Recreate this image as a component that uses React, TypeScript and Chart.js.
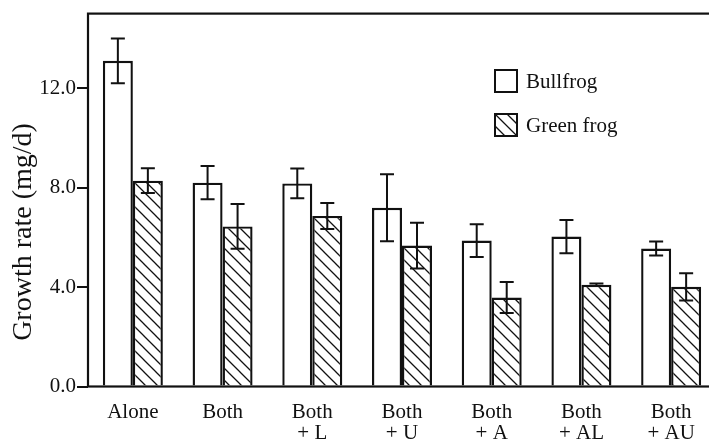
import { useEffect, useRef } from "react";
import { Chart, registerables } from "chart.js";

Chart.register(...registerables);

// Treatments along the x axis (multi-line labels)
const categories: string[][] = [
  ["Alone"],
  ["Both"],
  ["Both", "+ L"],
  ["Both", "+ U"],
  ["Both", "+ A"],
  ["Both", "+ AL"],
  ["Both", "+ AU"],
];

const seriesNames = ["Bullfrog", "Green frog"];

// Mean growth rate (mg/d) and error half-widths
const bullfrog = [13.1, 8.2, 8.17, 7.19, 5.87, 6.03, 5.55];
const bullfrogErr = [0.9, 0.67, 0.6, 1.35, 0.66, 0.67, 0.28];
const greenFrog = [8.28, 6.44, 6.86, 5.67, 3.58, 4.09, 4.01];
const greenFrogErr = [0.5, 0.9, 0.52, 0.92, 0.62, 0.05, 0.55];

const yTicks = [0, 4, 8, 12];
const yMax = 15;
const yTitle = "Growth rate (mg/d)";

const FONT = "'Liberation Serif', 'Times New Roman', serif";
const INK = "#111";

function makeHatch(): CanvasPattern | string {
  const size = 12;
  const c = document.createElement("canvas");
  c.width = size;
  c.height = size;
  const g = c.getContext("2d");
  if (!g) return "#fff";
  g.fillStyle = "#fff";
  g.fillRect(0, 0, size, size);
  g.strokeStyle = INK;
  g.lineWidth = 1.3;
  g.beginPath();
  g.moveTo(-2, -2);
  g.lineTo(size + 2, size + 2);
  g.moveTo(-2, size - 2);
  g.lineTo(2, size + 2);
  g.moveTo(size - 2, -2);
  g.lineTo(size + 2, 2);
  g.stroke();
  const p = g.createPattern(c, "repeat");
  return p ?? "#fff";
}

const errorBarsPlugin = {
  id: "errorBars",
  afterDatasetsDraw(chart: any) {
    const ctx = chart.ctx as CanvasRenderingContext2D;
    const y = chart.scales.y;
    const errs = [bullfrogErr, greenFrogErr];
    const vals = [bullfrog, greenFrog];
    ctx.save();
    ctx.strokeStyle = INK;
    ctx.lineWidth = 2;
    for (let d = 0; d < 2; d++) {
      const meta = chart.getDatasetMeta(d);
      meta.data.forEach((el: any, i: number) => {
        const top = y.getPixelForValue(vals[d][i] + errs[d][i]);
        const bot = y.getPixelForValue(vals[d][i] - errs[d][i]);
        const half = 7;
        ctx.beginPath();
        ctx.moveTo(el.x, top);
        ctx.lineTo(el.x, bot);
        ctx.moveTo(el.x - half, top);
        ctx.lineTo(el.x + half, top);
        ctx.moveTo(el.x - half, bot);
        ctx.lineTo(el.x + half, bot);
        ctx.stroke();
      });
    }
    ctx.restore();
  },
};

const framePlugin = {
  id: "frame",
  afterDraw(chart: any) {
    const ctx = chart.ctx as CanvasRenderingContext2D;
    const a = chart.chartArea;
    ctx.save();
    ctx.strokeStyle = INK;
    ctx.lineWidth = 2.2;
    ctx.strokeRect(a.left, a.top, a.right - a.left, a.bottom - a.top);

    // y-axis title
    ctx.fillStyle = INK;
    ctx.font = `28px ${FONT}`;
    ctx.textAlign = "center";
    ctx.textBaseline = "middle";
    ctx.translate(24, 232);
    ctx.rotate(-Math.PI / 2);
    ctx.fillText(yTitle, 0, 0);
    ctx.restore();
  },
};

const legendPlugin = {
  id: "boxLegend",
  afterDraw(chart: any) {
    const ctx = chart.ctx as CanvasRenderingContext2D;
    const bx = 495;
    const rows = [70, 114];
    const box = 22;
    ctx.save();
    ctx.strokeStyle = INK;
    ctx.fillStyle = INK;
    ctx.lineWidth = 2;
    ctx.font = `21px ${FONT}`;
    ctx.textBaseline = "alphabetic";
    ctx.textAlign = "left";
    rows.forEach((ry, k) => {
      ctx.fillStyle = "#fff";
      ctx.fillRect(bx, ry, box, box);
      if (k === 1) {
        ctx.save();
        ctx.beginPath();
        ctx.rect(bx, ry, box, box);
        ctx.clip();
        ctx.lineWidth = 1.3;
        ctx.beginPath();
        for (let s = -2; s <= 2; s++) {
          const off = s * 12;
          ctx.moveTo(bx + off, ry);
          ctx.lineTo(bx + off + box, ry + box);
        }
        ctx.stroke();
        ctx.restore();
      }
      ctx.strokeRect(bx, ry, box, box);
      ctx.fillStyle = INK;
      ctx.fillText(seriesNames[k], 526, ry + 18);
    });
    ctx.restore();
  },
};

export default function App() {
  const ref = useRef<HTMLCanvasElement | null>(null);

  useEffect(() => {
    if (!ref.current) return;
    const hatch = makeHatch();
    const chart = new Chart(ref.current, {
      type: "bar",
      data: {
        labels: categories,
        datasets: [
          {
            label: seriesNames[0],
            data: bullfrog,
            backgroundColor: "#fff",
            borderColor: INK,
            borderWidth: 2.4,
            categoryPercentage: 0.6688,
            barPercentage: 1,
          },
          {
            label: seriesNames[1],
            data: greenFrog,
            backgroundColor: hatch as any,
            borderColor: INK,
            borderWidth: 2.4,
            categoryPercentage: 0.6688,
            barPercentage: 1,
          },
        ],
      },
      options: {
        responsive: false,
        animation: false,
        devicePixelRatio: 1,
        layout: { padding: { top: 9, left: 0, right: 0, bottom: 0 } },
        plugins: {
          legend: { display: false },
          tooltip: { enabled: false },
          title: { display: false },
        },
        scales: {
          x: {
            grid: { display: false },
            border: { display: false },
            ticks: {
              color: INK,
              font: { family: FONT, size: 21, lineHeight: 1.02 },
              padding: 7,
              maxRotation: 0,
              autoSkip: false,
            },
            afterFit: (s: any) => {
              s.height = 53.5;
            },
          },
          y: {
            min: 0,
            max: yMax,
            grid: {
              display: true,
              drawOnChartArea: false,
              drawTicks: true,
              tickLength: 11,
              color: INK,
              lineWidth: 2,
            },
            border: { display: false },
            ticks: {
              color: INK,
              font: { family: FONT, size: 21 },
              padding: 1,
              callback: (v: any) => Number(v).toFixed(1),
            },
            afterBuildTicks: (s: any) => {
              s.ticks = yTicks.map((v) => ({ value: v }));
            },
            afterFit: (s: any) => {
              s.width = 88;
            },
          },
        },
      },
      plugins: [errorBarsPlugin, framePlugin, legendPlugin],
    });
    return () => chart.destroy();
  }, []);

  return (
    <div
      style={{
        position: "absolute",
        left: 0,
        top: 0,
        width: 709,
        height: 440,
        overflow: "hidden",
        background: "#fff",
      }}
    >
      <canvas ref={ref} width={716} height={440} style={{ width: 716, height: 440, display: "block" }} />
    </div>
  );
}
